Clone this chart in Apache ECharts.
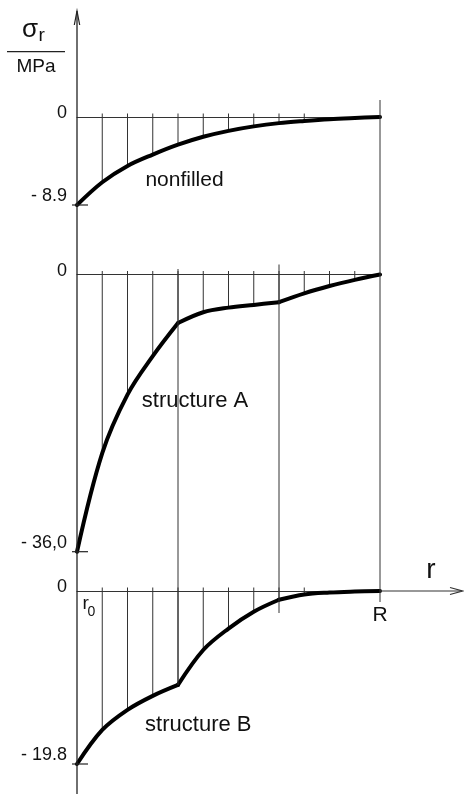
<!DOCTYPE html>
<html><head><meta charset="utf-8">
<script src="https://cdn.jsdelivr.net/npm/echarts@6/dist/echarts.min.js"></script>
<style>html,body{margin:0;padding:0;background:#fff}#c{width:464px;height:794px}</style>
</head><body><div id="c"></div>
<script>
// ---- data ----
const rUnits = [0, 1, 2, 3, 4, 5, 6, 7, 8, 9, 10, 11, 12];
const nonfilled  = [-8.9, -6.6, -4.95, -3.8, -2.8, -2.0, -1.4, -0.95, -0.62, -0.4, -0.22, -0.1, 0];
const structureA = [-36, -23.2, -15.6, -10.6, -6.3, -4.9, -4.3, -3.95, -3.6, -2.45, -1.5, -0.7, 0];
const structureB = [-19.8, -15.9, -13.6, -12.0, -10.75, -6.75, -4.3, -2.37, -1.0, -0.4, -0.18, -0.07, 0];
const kinks = [[], [4, 8], [4, 8]];
const yMins = [-8.9, -36, -19.8];
const yTickLabels = [['- 8.9', '0'], ['- 36,0', '0'], ['- 19.8', '0']];
const hatchCounts = [9, 11, 9];
const panelNames = ['nonfilled', 'structure A', 'structure B'];
const xTickLabels = ['r', 'R']; // r0 at 0, R at 12

// ---- layout ----
const FONT = "'Liberation Sans', Arial, sans-serif";
const LEFT = 77, WIDTH = 303;
const grids = [
  { left: LEFT, top: 117, width: WIDTH, height: 88 },
  { left: LEFT, top: 274.5, width: WIDTH, height: 277.2 },
  { left: LEFT, top: 591, width: WIDTH, height: 173 }
];
const panels = [nonfilled, structureA, structureB];

function segments(vals, ks) {
  const cuts = [rUnits[0]].concat(ks, [rUnits[rUnits.length - 1]]);
  const segs = [];
  for (let i = 0; i < cuts.length - 1; i++) {
    segs.push(rUnits.map((x, j) => [x, vals[j]]).filter(d => d[0] >= cuts[i] && d[0] <= cuts[i + 1]));
  }
  return segs;
}

const chart = echarts.init(document.getElementById('c'), null, { renderer: 'canvas' });

const xAxes = [], yAxes = [], series = [];
panels.forEach((vals, p) => {
  xAxes.push({
    type: 'value', gridIndex: p, min: 0, max: 12,
    axisLine: { show: true, onZero: true, lineStyle: { color: '#333', width: 1.2 } },
    axisTick: { show: false }, axisLabel: { show: false }, splitLine: { show: false }
  });
  yAxes.push({
    type: 'value', gridIndex: p, min: yMins[p], max: 0, interval: -yMins[p],
    axisLine: { show: false }, axisTick: { show: false }, splitLine: { show: false },
    axisLabel: {
      margin: 10, fontFamily: FONT, fontSize: 18, color: '#111',
      formatter: v => Math.abs(v) < 1e-9 ? '{z|' + yTickLabels[p][1] + '}' : '{n|' + yTickLabels[p][0] + '}',
      rich: {
        z: { fontFamily: FONT, fontSize: 18, color: '#111', padding: [0, 0, 7, 0] },
        n: { fontFamily: FONT, fontSize: 18, color: '#111', padding: [0, 0, 17, 0] }
      }
    }
  });
  // hatching
  series.push({
    type: 'custom', xAxisIndex: p, yAxisIndex: p, clip: false, z: 2, silent: true,
    data: rUnits.slice(1, hatchCounts[p] + 1).map(x => [x, vals[x]]),
    renderItem: (params, api) => {
      const x = api.value(0), y = api.value(1);
      const a = api.coord([x, 0]), b = api.coord([x, y]);
      return { type: 'line', shape: { x1: a[0], y1: a[1] - 3.5, x2: b[0], y2: b[1] },
        style: { stroke: '#333', lineWidth: 1 } };
    }
  });
  // curve (segments between kinks)
  segments(vals, kinks[p]).forEach(seg => {
    series.push({
      type: 'line', xAxisIndex: p, yAxisIndex: p, data: seg, clip: false, z: 5,
      smooth: 0.35, showSymbol: false, silent: true,
      lineStyle: { color: '#000', width: 4, cap: 'round', join: 'round' }
    });
  });
});

chart.setOption({
  backgroundColor: '#fff',
  animation: false,
  grid: grids.map(g => Object.assign({ outerBoundsMode: 'none', containLabel: false }, g)),
  xAxis: xAxes, yAxis: yAxes, series: series
});

// ---- construction lines, arrows, texts (positions derived from the axes) ----
const px = (g, x, y) => chart.convertToPixel({ gridIndex: g }, [x, y]);
const ln = (x1, y1, x2, y2, w, c) => ({ type: 'line', z: 10, silent: true,
  shape: { x1, y1, x2, y2 }, style: { stroke: c || '#333', lineWidth: w || 1 } });
const txt = (x, y, s, size, align, extra) => ({ type: 'text', z: 10, silent: true, x, y,
  style: Object.assign({ text: s, fontFamily: FONT, fontSize: size, fill: '#111',
    align: align || 'center', verticalAlign: 'middle' }, extra || {}) });

const g = [];
const ax0 = px(0, 0, 0);
const AX = ax0[0];
// vertical axis with open arrow
g.push(ln(AX, 11, AX, 794, 1.3, '#222'));
g.push({ type: 'polyline', z: 10, silent: true,
  shape: { points: [[AX - 2.7, 25], [AX, 11], [AX + 2.7, 25]] }, style: { stroke: '#222', lineWidth: 1.2, fill: null } });
// r axis extension with arrow (bottom panel)
const rEnd = px(2, 12, 0);
g.push(ln(rEnd[0], rEnd[1], 462, rEnd[1], 1.2));
g.push({ type: 'polyline', z: 10, silent: true,
  shape: { points: [[450, rEnd[1] - 3.5], [462.5, rEnd[1]], [450, rEnd[1] + 3.5]] }, style: { stroke: '#333', lineWidth: 1.2, fill: null } });
// long vertical construction lines
const l4t = px(1, 4, 0), l4b = px(2, 4, structureB[4]);
g.push(ln(l4t[0], l4t[1] - 5.5, l4b[0], l4b[1], 1));
const l8t = px(1, 8, 0), l8b = px(2, 8, 0);
g.push(ln(l8t[0], l8t[1] - 10, l8b[0], l8b[1] + 22, 1));
const lRt = px(0, 12, 0), lRb = px(2, 12, 0);
g.push(ln(lRt[0], lRt[1] - 17, lRb[0], lRb[1] + 11, 1));
// ticks at minima
yMins.forEach((m, p) => { const t = px(p, 0, m); g.push(ln(t[0] - 5, t[1], t[0] + 11, t[1], 1.2, '#222')); });
// unit label sigma_r / MPa
g.push(txt(22, 29.5, 'σ', 26, 'left'));
g.push(txt(38.5, 36, 'r', 19, 'left'));
g.push(ln(7, 51.7, 65, 51.7, 1.3, '#222'));
g.push(txt(36, 66.5, 'MPa', 19, 'center'));
// panel names
g.push(txt(184.5, 180, panelNames[0], 21));
g.push(txt(195, 401, panelNames[1], 22));
g.push(txt(198.3, 725, panelNames[2], 22));
// r axis labels
g.push(txt(431, 570, xTickLabels[0], 28));
const Rp = px(2, 12, 0);
g.push(txt(Rp[0], Rp[1] + 24.5, xTickLabels[1], 21));
const r0p = px(2, 0, 0);
g.push(txt(r0p[0] + 5.5, r0p[1] + 13, 'r', 19, 'left'));
g.push(txt(r0p[0] + 10.5, r0p[1] + 21, '0', 14, 'left'));

chart.setOption({ graphic: { elements: g } });
</script>
</body></html>
